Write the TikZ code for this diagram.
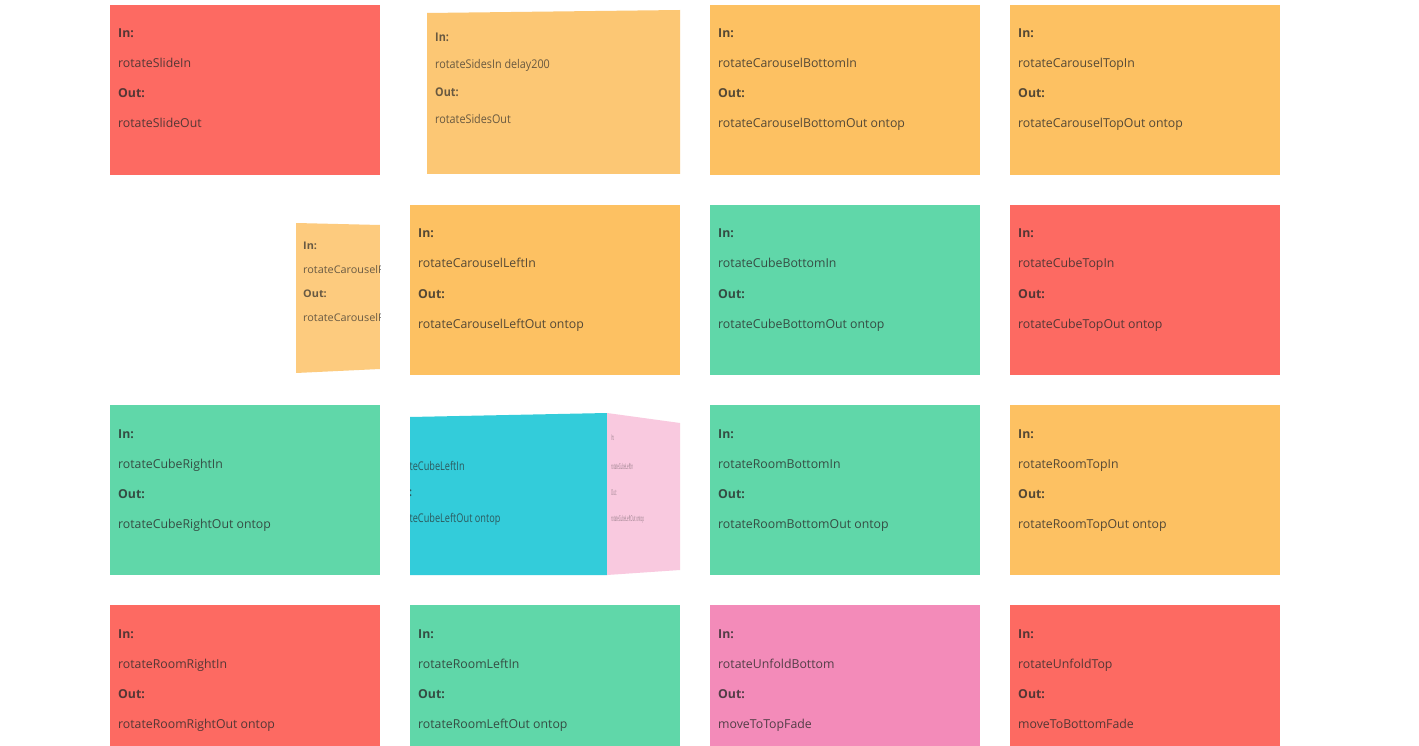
\documentclass[tikz,border=0pt]{standalone}
\usepackage{fontspec}
\setmainfont{Open Sans}
\definecolor{cred}{HTML}{FD6A62}
\definecolor{corange}{HTML}{FDC162}
\definecolor{cgreen}{HTML}{60D7A9}
\definecolor{cpink}{HTML}{F38BB9}
\definecolor{corangeA}{HTML}{FCC774}
\definecolor{corangeB}{HTML}{FDCB7E}
\definecolor{ccyan}{HTML}{33CCDA}
\definecolor{cpinkA}{HTML}{F9C9DF}
\definecolor{txt}{HTML}{2A2A2A}
\newcommand\mkcard[6]{%
  \node[card,fill=#4] (#1) at (#2,#3) {};
  \node[lbl] (#1i) at ([xshift=8pt,yshift=-33pt]#1.north west) {In:};
  \node[val] (#1a) at ([xshift=8pt,yshift=-63pt]#1.north west) {#5};
  \node[lbl] (#1o) at ([xshift=8pt,yshift=-93pt]#1.north west) {Out:};
  \node[val] (#1b) at ([xshift=8pt,yshift=-123pt]#1.north west) {#6};
}
\begin{document}
\begin{tikzpicture}[x=1pt,y=-1pt,
  card/.style={rectangle,anchor=north west,minimum width=270pt,minimum height=170pt,inner sep=0pt,outer sep=0pt},
  lbl/.style={anchor=base west,inner sep=0pt,text=txt,text opacity=0.8,font=\fontsize{12.3}{14}\selectfont\bfseries},
  val/.style={anchor=base west,inner sep=0pt,text=txt,text opacity=0.8,font=\fontsize{12.3}{14}\selectfont},
  small/.style={anchor=base west,inner sep=0pt,text=txt,text opacity=0.7,font=\fontsize{12}{14}\selectfont,xscale=0.9},
  tiny/.style={anchor=base west,inner sep=0pt,text=txt,text opacity=0.45,font=\fontsize{8}{9}\selectfont,xscale=0.35}]
\clip (0,0) rectangle (1419,746);
\fill[white] (0,0) rectangle (1419,746);
% row 1
\mkcard{c1}{110}{5}{cred}{rotateSlideIn}{rotateSlideOut}
\fill[corangeA] (427,13) -- (680,10) -- (680,174) -- (427,174) -- cycle;
\node[small,font=\fontsize{12}{14}\selectfont\bfseries] (c2i) at (435,42) {In:};
\node[small] (c2a) at (435,69) {rotateSidesIn delay200};
\node[small,font=\fontsize{12}{14}\selectfont\bfseries] (c2o) at (435,97) {Out:};
\node[small] (c2b) at (435,124) {rotateSidesOut};
\mkcard{c3}{710}{5}{corange}{rotateCarouselBottomIn}{rotateCarouselBottomOut ontop}
\mkcard{c4}{1010}{5}{corange}{rotateCarouselTopIn}{rotateCarouselTopOut ontop}
% row 2
\begin{scope}
\clip (296,223) -- (380,225) -- (380,369) -- (296,373) -- cycle;
\fill[corangeB] (296,223) -- (380,225) -- (380,369) -- (296,373) -- cycle;
\node[small,font=\fontsize{10.5}{12}\selectfont\bfseries,xscale=1.15] (c5i) at (303,249) {In:};
\node[small,font=\fontsize{10.5}{12}\selectfont,xscale=1.15] (c5a) at (303,273) {rotateCarouselRi};
\node[small,font=\fontsize{10.5}{12}\selectfont\bfseries,xscale=1.15] (c5o) at (303,297) {Out:};
\node[small,font=\fontsize{10.5}{12}\selectfont,xscale=1.15] (c5b) at (303,321) {rotateCarouselRi};
\end{scope}
\mkcard{c6}{410}{205}{corange}{rotateCarouselLeftIn}{rotateCarouselLeftOut ontop}
\mkcard{c7}{710}{205}{cgreen}{rotateCubeBottomIn}{rotateCubeBottomOut ontop}
\mkcard{c8}{1010}{205}{cred}{rotateCubeTopIn}{rotateCubeTopOut ontop}
% row 3
\mkcard{c9}{110}{405}{cgreen}{rotateCubeRightIn}{rotateCubeRightOut ontop}
\begin{scope}
\clip (410,417) -- (607,413) -- (607,575) -- (410,575) -- cycle;
\fill[ccyan] (410,417) -- (607,413) -- (607,575) -- (410,575) -- cycle;
\node[small,font=\fontsize{12}{14}\selectfont\bfseries,xscale=0.85] (c10i) at (392,441) {In:};
\node[small,xscale=0.85] (c10a) at (392,470) {rotateCubeLeftIn};
\node[small,font=\fontsize{12}{14}\selectfont\bfseries,xscale=0.85] (c10o) at (392,496) {Out:};
\node[small,xscale=0.85] (c10b) at (392,522) {rotateCubeLeftOut ontop};
\end{scope}
\fill[cpinkA] (607,413) -- (680,423) -- (680,570) -- (607,575) -- cycle;
\node[tiny] (c10pi) at (611,440) {In:};
\node[tiny] (c10pa) at (611,469) {rotateCubeLeftIn};
\node[tiny] (c10po) at (611,495) {Out:};
\node[tiny] (c10pb) at (611,521) {rotateCubeLeftOut ontop};
\mkcard{c11}{710}{405}{cgreen}{rotateRoomBottomIn}{rotateRoomBottomOut ontop}
\mkcard{c12}{1010}{405}{corange}{rotateRoomTopIn}{rotateRoomTopOut ontop}
% row 4
\mkcard{c13}{110}{605}{cred}{rotateRoomRightIn}{rotateRoomRightOut ontop}
\mkcard{c14}{410}{605}{cgreen}{rotateRoomLeftIn}{rotateRoomLeftOut ontop}
\mkcard{c15}{710}{605}{cpink}{rotateUnfoldBottom}{moveToTopFade}
\mkcard{c16}{1010}{605}{cred}{rotateUnfoldTop}{moveToBottomFade}
\end{tikzpicture}
\end{document}
